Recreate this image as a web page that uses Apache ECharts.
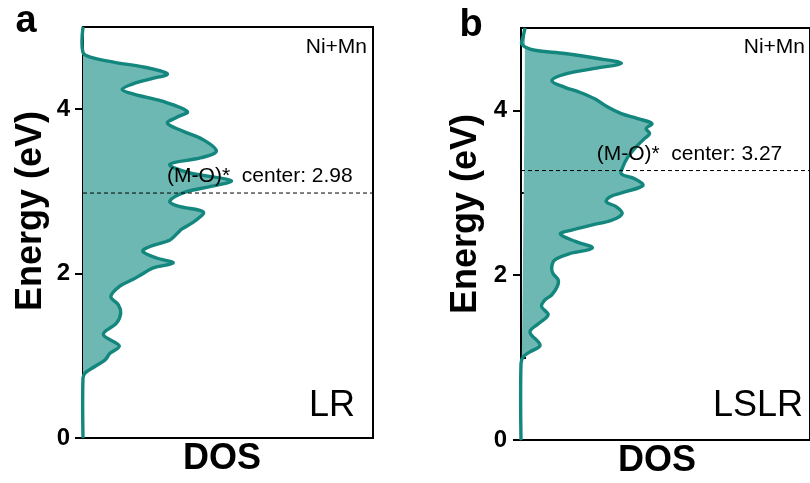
<!DOCTYPE html>
<html>
<head>
<meta charset="utf-8">
<script src="https://cdn.jsdelivr.net/npm/echarts@6/dist/echarts.min.js"></script>
<style>
  html, body { margin: 0; padding: 0; background: #fff; }
  #chart { width: 810px; height: 483px; }
</style>
</head>
<body>
<div id="chart"></div>
<script>
// Ni+Mn projected density of states, pairs of [DOS (a.u.), energy (eV)], bottom to top
const dosLR = [
  [0, 0], [0, 0.73], [0.07, 0.79], [0.41, 0.87], [0.76, 0.95], [0.93, 1.03], [1.25, 1.12],
  [0.70, 1.26], [1.16, 1.40], [1.30, 1.52], [1.22, 1.62], [0.96, 1.72], [1.28, 1.85],
  [1.73, 1.93], [2.02, 1.99], [2.42, 2.07], [3.11, 2.13], [2.54, 2.19], [2.06, 2.27],
  [2.31, 2.33], [3.00, 2.41], [3.28, 2.50], [3.40, 2.54], [3.86, 2.64], [4.15, 2.75],
  [3.28, 2.82], [2.99, 2.88], [3.52, 2.99], [4.41, 3.06], [5.11, 3.13], [3.62, 3.23],
  [2.99, 3.33], [4.08, 3.41], [4.60, 3.49], [4.14, 3.63], [3.39, 3.74], [2.91, 3.83],
  [3.22, 3.90], [3.60, 3.97], [2.70, 4.10], [1.78, 4.18], [1.35, 4.24], [1.66, 4.30],
  [2.34, 4.37], [2.91, 4.43], [2.13, 4.51], [1.09, 4.57], [0.29, 4.63], [0, 4.69], [0, 5]
];
const dosLSLR = [
  [0, 0], [0, 0.93], [0.08, 1.01], [0.31, 1.07], [0.66, 1.15], [0.31, 1.31], [0.60, 1.41],
  [0.94, 1.52], [0.71, 1.62], [0.83, 1.70], [1.06, 1.76], [1.25, 1.86], [1.29, 1.94],
  [1.11, 2.02], [1.06, 2.08], [1.11, 2.16], [1.23, 2.20], [1.66, 2.26], [2.47, 2.33],
  [1.88, 2.41], [1.36, 2.50], [1.78, 2.55], [2.47, 2.61], [3.16, 2.67], [3.50, 2.75],
  [3.30, 2.83], [2.95, 2.89], [3.07, 2.95], [3.59, 3.01], [4.22, 3.09], [3.93, 3.17],
  [3.47, 3.23], [3.52, 3.31], [3.69, 3.43], [3.99, 3.56], [4.28, 3.66], [4.45, 3.72],
  [4.33, 3.78], [4.53, 3.84], [4.04, 3.90], [3.47, 3.96], [3.00, 4.04], [2.55, 4.14],
  [2.03, 4.22], [1.52, 4.28], [1.07, 4.36], [1.52, 4.44], [2.55, 4.51], [3.47, 4.57],
  [2.66, 4.63], [1.52, 4.69], [0.48, 4.73], [0.14, 4.77], [0.02, 4.81], [0.07, 4.89], [0.14, 5.0]
];

// (M-O)* band centres (eV)
const centerLR = 2.98;
const centerLSLR = 3.27;

// energy axis ticks
const energyTicks = [0, 2, 4];
const energyMinorTicks = [1, 3];

const panelLetters = ['a', 'b'];
const sampleNames = ['LR', 'LSLR'];
const elementLabel = 'Ni+Mn';
const energyTitle = 'Energy (eV)';
const dosTitle = 'DOS';

const FONT = '"Liberation Sans", Arial, Helvetica, sans-serif';
const LINE = '#13867e';
const FILL = '#6db8b3';

const chart = echarts.init(document.getElementById('chart'), null, { renderer: 'canvas' });

// filled DOS profile: area between the curve and the energy axis, then the outline
function areaRenderer(points) {
  return function (params, api) {
    const pts = points.map(p => api.coord(p));
    return {
      type: 'group',
      children: [
        { type: 'polygon', shape: { points: pts, smooth: 0.35 }, style: { fill: FILL } },
        { type: 'polyline', shape: { points: pts, smooth: 0.35 },
          style: { stroke: LINE, lineWidth: 3.4, fill: null } }
      ]
    };
  };
}

function xAxisFor(gi) {
  return {
    type: 'value', gridIndex: gi, min: 0, max: 10,
    axisLine: { show: true, onZero: false, lineStyle: { color: '#000', width: 2 } },
    axisTick: { show: false }, axisLabel: { show: false }, splitLine: { show: false }
  };
}
function yMajor(gi, margin) {
  return {
    type: 'value', gridIndex: gi, min: 0, max: 5,
    axisLine: { show: true, onZero: false, lineStyle: { color: '#000', width: 2 } },
    axisTick: { show: true, customValues: energyTicks, length: 8, lineStyle: { color: '#000', width: 2 } },
    axisLabel: { show: true, customValues: energyTicks, margin: margin,
      fontFamily: FONT, fontWeight: 'bold', fontSize: 24, color: '#000' },
    splitLine: { show: false }
  };
}
function yMinor(gi) {
  return {
    type: 'value', gridIndex: gi, min: 0, max: 5,
    axisLine: { show: false },
    axisTick: { show: true, customValues: energyMinorTicks, length: 5, lineStyle: { color: '#000', width: 2 } },
    axisLabel: { show: false },
    splitLine: { show: false }
  };
}
function centerSeries(gi, value, labelX) {
  return [
    {
      type: 'line', xAxisIndex: gi, yAxisIndex: gi * 2, z: 4,
      data: [[0, value], [10, value]], symbol: 'none', silent: true,
      lineStyle: { color: '#000', width: 1, type: [4, 3] }
    },
    {
      type: 'scatter', xAxisIndex: gi, yAxisIndex: gi * 2, z: 5,
      data: [[labelX, value]], symbolSize: 0, silent: true,
      itemStyle: { color: '#000', opacity: 1 },
      label: {
        show: true, position: 'top', distance: 6,
        formatter: '(M-O)*  center: ' + value.toFixed(2),
        fontFamily: FONT, fontSize: 21, color: '#000', opacity: 1
      }
    }
  ];
}
function txt(text, x, y, size, weight, align, rotation) {
  return {
    type: 'text', x: x, y: y, rotation: rotation || 0, z: 10,
    style: {
      text: text, font: weight + ' ' + size + 'px ' + FONT, fill: '#000',
      textAlign: align, textVerticalAlign: 'middle'
    }
  };
}

chart.setOption({
  animation: false,
  backgroundColor: '#fff',
  grid: [
    { left: 83, top: 27, width: 290, height: 411, show: true, borderColor: '#000', borderWidth: 2 },
    { left: 521, top: 28, width: 290, height: 412, show: true, borderColor: '#000', borderWidth: 2 }
  ],
  xAxis: [xAxisFor(0), xAxisFor(1)],
  yAxis: [yMajor(0, 13), yMinor(0), yMajor(1, 14), yMinor(1)],
  series: [
    { type: 'custom', xAxisIndex: 0, yAxisIndex: 0, z: 3, data: [[0, 0]], silent: true,
      renderItem: areaRenderer(dosLR) },
    { type: 'custom', xAxisIndex: 1, yAxisIndex: 2, z: 3, data: [[0, 0]], silent: true,
      renderItem: areaRenderer(dosLSLR) },
    ...centerSeries(0, centerLR, 6.1),
    ...centerSeries(1, centerLSLR, 5.83)
  ],
  graphic: [
    txt(panelLetters[0], 26, 22, 38, 'bold', 'center'),
    txt(panelLetters[1], 471, 26, 38, 'bold', 'center'),
    txt(energyTitle, 31, 211, 36, 'bold', 'center', Math.PI / 2),
    txt(energyTitle, 466, 214, 36, 'bold', 'center', Math.PI / 2),
    txt(dosTitle, 222, 459, 36, 'bold', 'center'),
    txt(dosTitle, 657, 461, 36, 'bold', 'center'),
    txt(elementLabel, 367, 47, 21, 'normal', 'right'),
    txt(elementLabel, 805, 47, 21, 'normal', 'right'),
    txt(sampleNames[0], 355, 406, 36, 'normal', 'right'),
    txt(sampleNames[1], 803, 406, 36, 'normal', 'right')
  ]
});
</script>
</body>
</html>
